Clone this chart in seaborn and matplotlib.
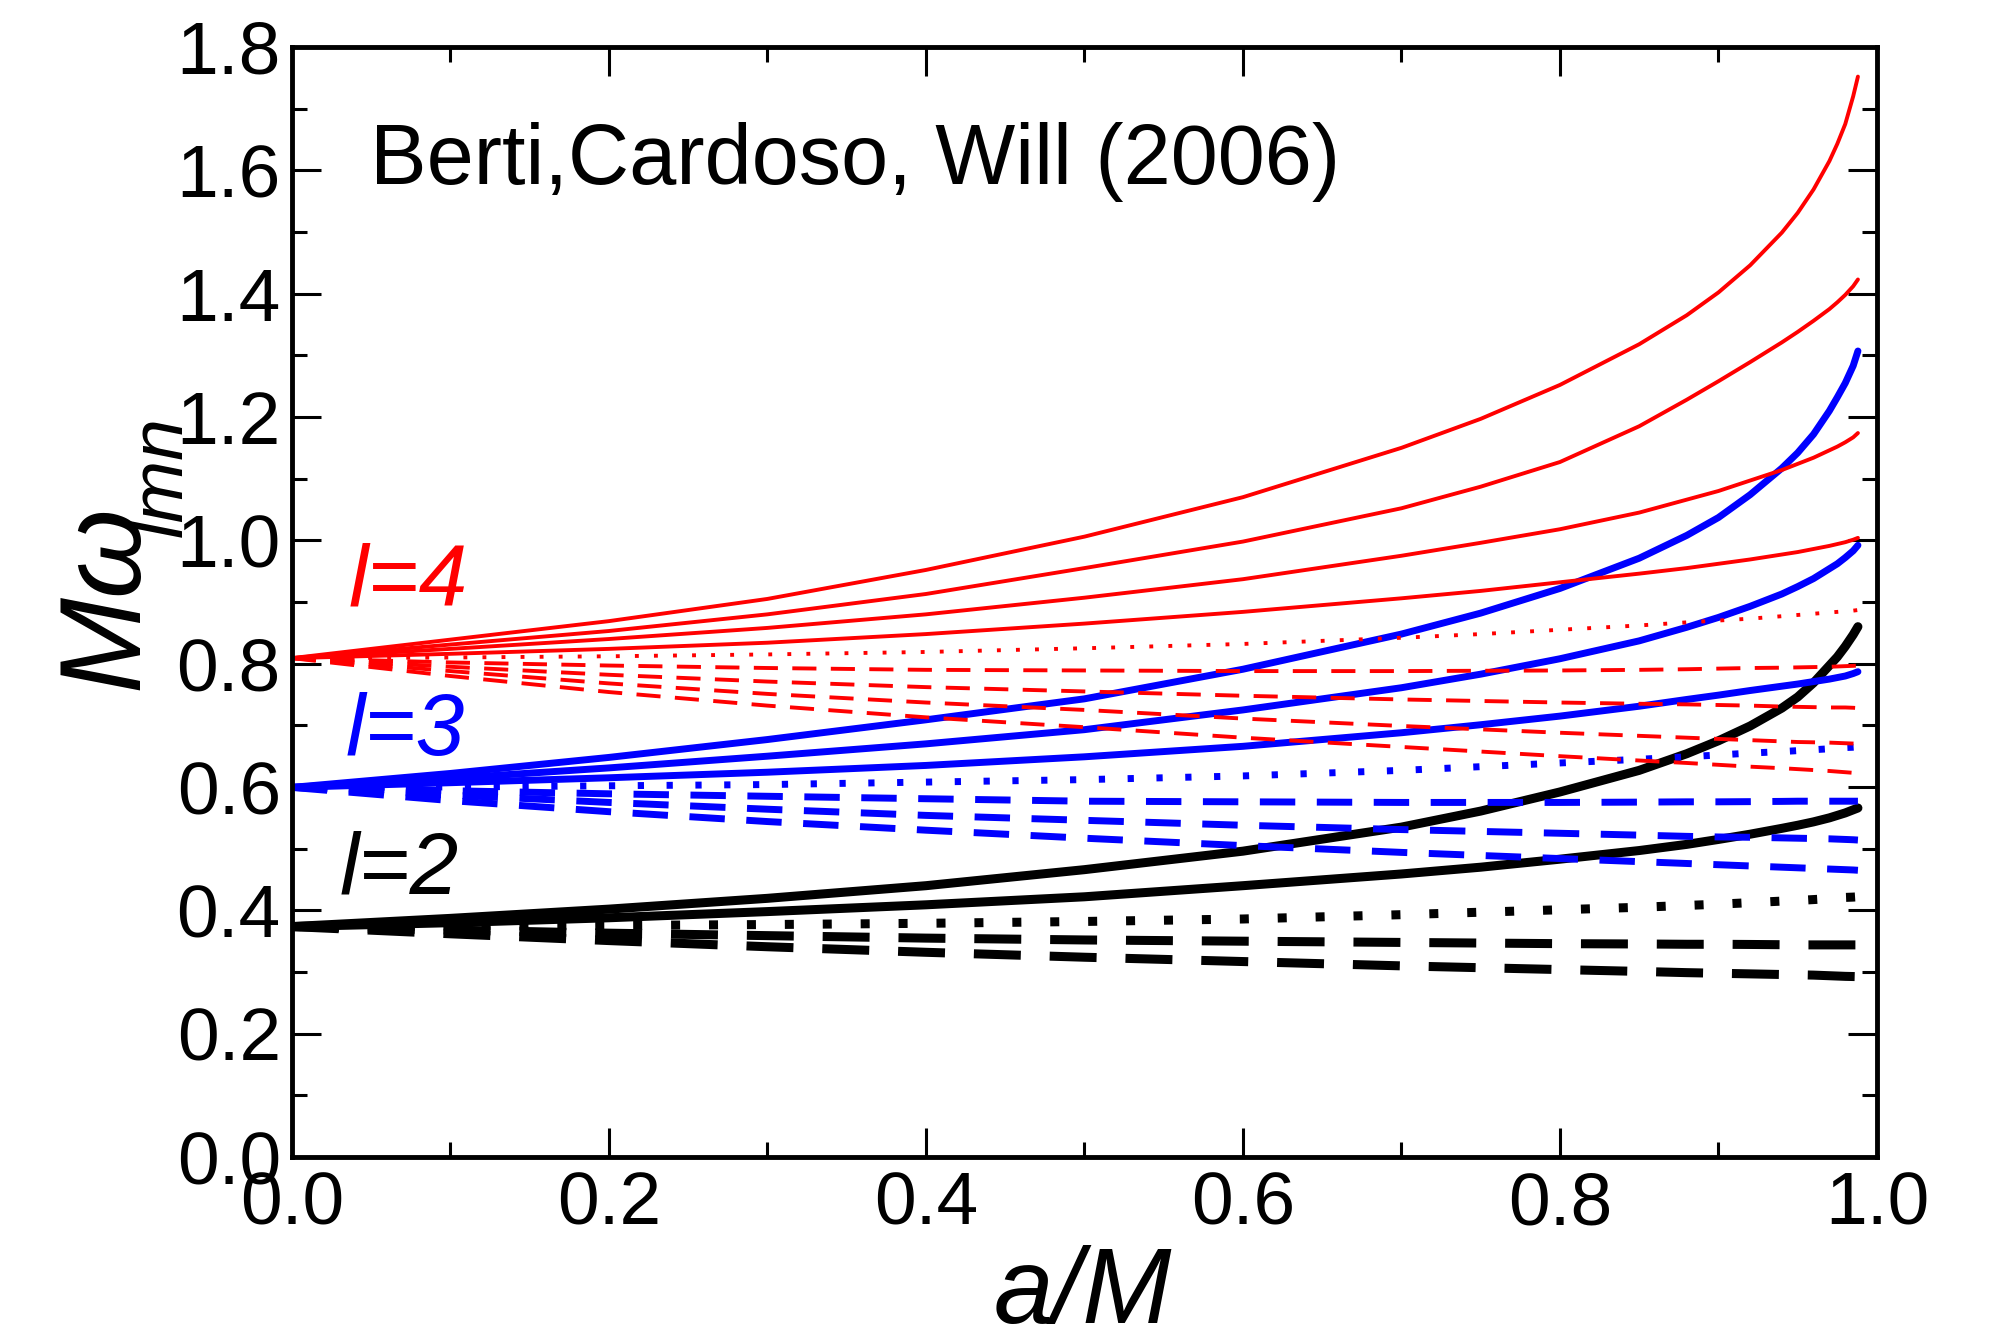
import pandas as pd
import matplotlib
matplotlib.use("Agg")
import matplotlib.pyplot as plt
import seaborn as sns

spin = [0.0, 0.1, 0.2, 0.3, 0.4, 0.5, 0.6, 0.7, 0.75, 0.8, 0.85, 0.88, 0.9, 0.92,
        0.94, 0.95, 0.96, 0.97, 0.975, 0.98, 0.985, 0.988]

# l=2 (black), m = 2, 1, 0, -1, -2
l2_m2 = [0.3737, 0.387, 0.402, 0.4195, 0.440, 0.466, 0.496, 0.535, 0.561, 0.592, 0.627, 0.654, 0.675, 0.699, 0.728, 0.746, 0.769, 0.797, 0.811, 0.828, 0.847, 0.860]
l2_m1 = [0.3737, 0.380, 0.388, 0.398, 0.409, 0.422, 0.440, 0.459, 0.470, 0.483, 0.497, 0.507, 0.515, 0.5235, 0.533, 0.538, 0.5435, 0.550, 0.554, 0.558, 0.563, 0.566]
l2_m0 = [0.3737, 0.3745, 0.3755, 0.377, 0.379, 0.382, 0.386, 0.393, 0.397, 0.401, 0.405, 0.408, 0.410, 0.4125, 0.415, 0.416, 0.4175, 0.419, 0.420, 0.421, 0.4215, 0.422]
l2_mm1 = [0.3737, 0.368, 0.363, 0.359, 0.355, 0.352, 0.350, 0.348, 0.347, 0.346, 0.3455, 0.345, 0.345, 0.3447, 0.3443, 0.344, 0.344, 0.344, 0.344, 0.344, 0.344, 0.344]
l2_mm2 = [0.3737, 0.362, 0.351, 0.341, 0.332, 0.324, 0.317, 0.310, 0.307, 0.304, 0.301, 0.299, 0.298, 0.297, 0.296, 0.2955, 0.295, 0.294, 0.2935, 0.293, 0.2927, 0.2925]

# l=3 (blue), m = 3 ... -3
l3_m3 = [0.5994, 0.622, 0.648, 0.677, 0.709, 0.743, 0.791, 0.848, 0.882, 0.922, 0.971, 1.008, 1.037, 1.074, 1.117, 1.142, 1.172, 1.210, 1.232, 1.255, 1.283, 1.307]
l3_m2 = [0.5994, 0.614, 0.631, 0.650, 0.670, 0.693, 0.725, 0.761, 0.783, 0.808, 0.837, 0.859, 0.875, 0.893, 0.913, 0.925, 0.938, 0.954, 0.962, 0.972, 0.983, 0.992]
l3_m1 = [0.5994, 0.607, 0.615, 0.624, 0.635, 0.649, 0.666, 0.688, 0.701, 0.715, 0.731, 0.742, 0.749, 0.7565, 0.7635, 0.767, 0.771, 0.775, 0.7775, 0.780, 0.784, 0.787]
l3_m0 = [0.5994, 0.600, 0.602, 0.604, 0.608, 0.612, 0.618, 0.627, 0.633, 0.639, 0.645, 0.649, 0.652, 0.655, 0.6575, 0.659, 0.6605, 0.662, 0.663, 0.664, 0.6645, 0.665]
l3_mm1 = [0.5994, 0.594, 0.589, 0.585, 0.581, 0.577, 0.576, 0.575, 0.575, 0.575, 0.5755, 0.576, 0.576, 0.5763, 0.5767, 0.577, 0.577, 0.577, 0.577, 0.577, 0.577, 0.577]
l3_mm2 = [0.5994, 0.587, 0.575, 0.564, 0.554, 0.546, 0.538, 0.531, 0.528, 0.525, 0.522, 0.520, 0.519, 0.5185, 0.5175, 0.517, 0.5165, 0.516, 0.5155, 0.515, 0.5145, 0.514]
l3_mm3 = [0.5994, 0.578, 0.560, 0.544, 0.530, 0.517, 0.505, 0.494, 0.489, 0.484, 0.479, 0.476, 0.474, 0.472, 0.470, 0.469, 0.468, 0.467, 0.4665, 0.466, 0.4655, 0.465]

# l=4 (red), m = 4 ... -4
l4_m4 = [0.809, 0.839, 0.869, 0.905, 0.952, 1.006, 1.070, 1.150, 1.197, 1.252, 1.318, 1.365, 1.402, 1.446, 1.499, 1.531, 1.569, 1.615, 1.643, 1.675, 1.720, 1.752]
l4_m3 = [0.809, 0.831, 0.853, 0.880, 0.913, 0.955, 0.998, 1.052, 1.087, 1.127, 1.185, 1.228, 1.258, 1.289, 1.321, 1.338, 1.356, 1.375, 1.386, 1.398, 1.412, 1.423]
l4_m2 = [0.809, 0.824, 0.840, 0.858, 0.880, 0.907, 0.937, 0.975, 0.996, 1.018, 1.045, 1.066, 1.080, 1.097, 1.114, 1.124, 1.134, 1.146, 1.152, 1.159, 1.167, 1.174]
l4_m1 = [0.809, 0.816, 0.824, 0.834, 0.848, 0.865, 0.884, 0.906, 0.918, 0.932, 0.946, 0.955, 0.962, 0.969, 0.977, 0.981, 0.986, 0.991, 0.994, 0.997, 1.001, 1.004]
l4_m0 = [0.809, 0.810, 0.812, 0.815, 0.819, 0.825, 0.832, 0.842, 0.848, 0.855, 0.862, 0.867, 0.870, 0.873, 0.877, 0.879, 0.881, 0.883, 0.884, 0.885, 0.886, 0.887]
l4_mm1 = [0.809, 0.802, 0.797, 0.793, 0.790, 0.789, 0.788, 0.788, 0.7885, 0.789, 0.790, 0.791, 0.792, 0.793, 0.7935, 0.794, 0.7945, 0.795, 0.7955, 0.796, 0.7965, 0.797]
l4_mm2 = [0.809, 0.795, 0.782, 0.771, 0.762, 0.755, 0.748, 0.742, 0.7395, 0.737, 0.735, 0.734, 0.733, 0.732, 0.7305, 0.730, 0.7295, 0.729, 0.729, 0.729, 0.7285, 0.728]
l4_mm3 = [0.809, 0.788, 0.768, 0.751, 0.737, 0.725, 0.711, 0.699, 0.6935, 0.688, 0.683, 0.680, 0.678, 0.676, 0.674, 0.673, 0.6725, 0.672, 0.6715, 0.671, 0.6705, 0.670]
l4_mm4 = [0.809, 0.780, 0.754, 0.732, 0.713, 0.697, 0.680, 0.665, 0.6575, 0.650, 0.643, 0.639, 0.636, 0.633, 0.6305, 0.629, 0.6275, 0.626, 0.625, 0.624, 0.623, 0.622]

sns.set_style("ticks", {"axes.edgecolor": "black", "xtick.color": "black",
                        "ytick.color": "black", "text.color": "black"})
plt.rcParams["font.family"] = ["Liberation Sans", "DejaVu Sans"]

fig = plt.figure(figsize=(19.94, 13.31), dpi=100)
ax = fig.add_axes([0.1464, 0.1307, 0.7949, 0.8340])

# line styles: solid for m>0, dotted for m=0, dashed for m<0
black = dict(color="black", linewidth=6.5)
blue = dict(color="#0000ff", linewidth=5.0)
red = dict(color="#ff0000", linewidth=2.8)
k_dot, k_dash = (0, (1.0, 3.2)), (0, (5.2, 3.2))
b_dot, b_dash = (0, (0.9, 3.25)), (0, (5.1, 3.1))
r_dot, r_dash = (0, (1.0, 3.9)), (0, (6.2, 3.7))

curves = [
    (l2_m2, black, "-"), (l2_m1, black, "-"), (l2_m0, black, k_dot),
    (l2_mm1, black, k_dash), (l2_mm2, black, k_dash),
    (l3_m3, blue, "-"), (l3_m2, blue, "-"), (l3_m1, blue, "-"), (l3_m0, blue, b_dot),
    (l3_mm1, blue, b_dash), (l3_mm2, blue, b_dash), (l3_mm3, blue, b_dash),
    (l4_m4, red, "-"), (l4_m3, red, "-"), (l4_m2, red, "-"), (l4_m1, red, "-"),
    (l4_m0, red, r_dot), (l4_mm1, red, r_dash), (l4_mm2, red, r_dash),
    (l4_mm3, red, r_dash), (l4_mm4, red, r_dash),
]

for vals, kw, ls in curves:
    df = pd.DataFrame({"a": spin, "omega": vals})
    sns.lineplot(data=df, x="a", y="omega", ax=ax, estimator=None, sort=False,
                 linestyle=ls, **kw)

ax.set_xlim(0, 1.0)
ax.set_ylim(0, 1.8)
ax.set_xticks([0.0, 0.2, 0.4, 0.6, 0.8, 1.0])
ax.set_xticks([0.1, 0.3, 0.5, 0.7, 0.9], minor=True)
ax.set_yticks([0.0, 0.2, 0.4, 0.6, 0.8, 1.0, 1.2, 1.4, 1.6, 1.8])
ax.set_yticks([0.1, 0.3, 0.5, 0.7, 0.9, 1.1, 1.3, 1.5, 1.7], minor=True)
ax.tick_params(which="both", direction="in", top=True, right=True, width=2.2, labelsize=54)
ax.tick_params(which="major", length=21)
ax.tick_params(which="minor", length=11)
ax.tick_params(axis="x", pad=10)
ax.tick_params(axis="y", pad=8)
for s in ax.spines.values():
    s.set_linewidth(3.5)
    s.set_color("black")

ax.set_xlabel("")
ax.set_ylabel("")

# axis titles
fig.text(137 / 1994, 1 - 690 / 1331, "M\u03c9", rotation=90, rotation_mode="anchor",
         ha="left", va="baseline", fontsize=83, style="italic")
fig.text(182 / 1994, 1 - 537 / 1331, "lmn", rotation=90, rotation_mode="anchor",
         ha="left", va="baseline", fontsize=54, style="italic")
fig.text(1083 / 1994, 1 - 1323 / 1331, "a/M", ha="center", va="baseline",
         fontsize=77, style="italic")

ax.text(0.049, 1.578, "Berti,Cardoso, Will (2006)", fontsize=61, ha="left", va="baseline")
ax.text(0.036, 0.895, "l=4", color="#ff0000", fontsize=63, style="italic", va="baseline")
ax.text(0.034, 0.652, "l=3", color="#0000ff", fontsize=63, style="italic", va="baseline")
ax.text(0.030, 0.427, "l=2", color="black", fontsize=63, style="italic", va="baseline")

fig.savefig("out.png", dpi=100)
